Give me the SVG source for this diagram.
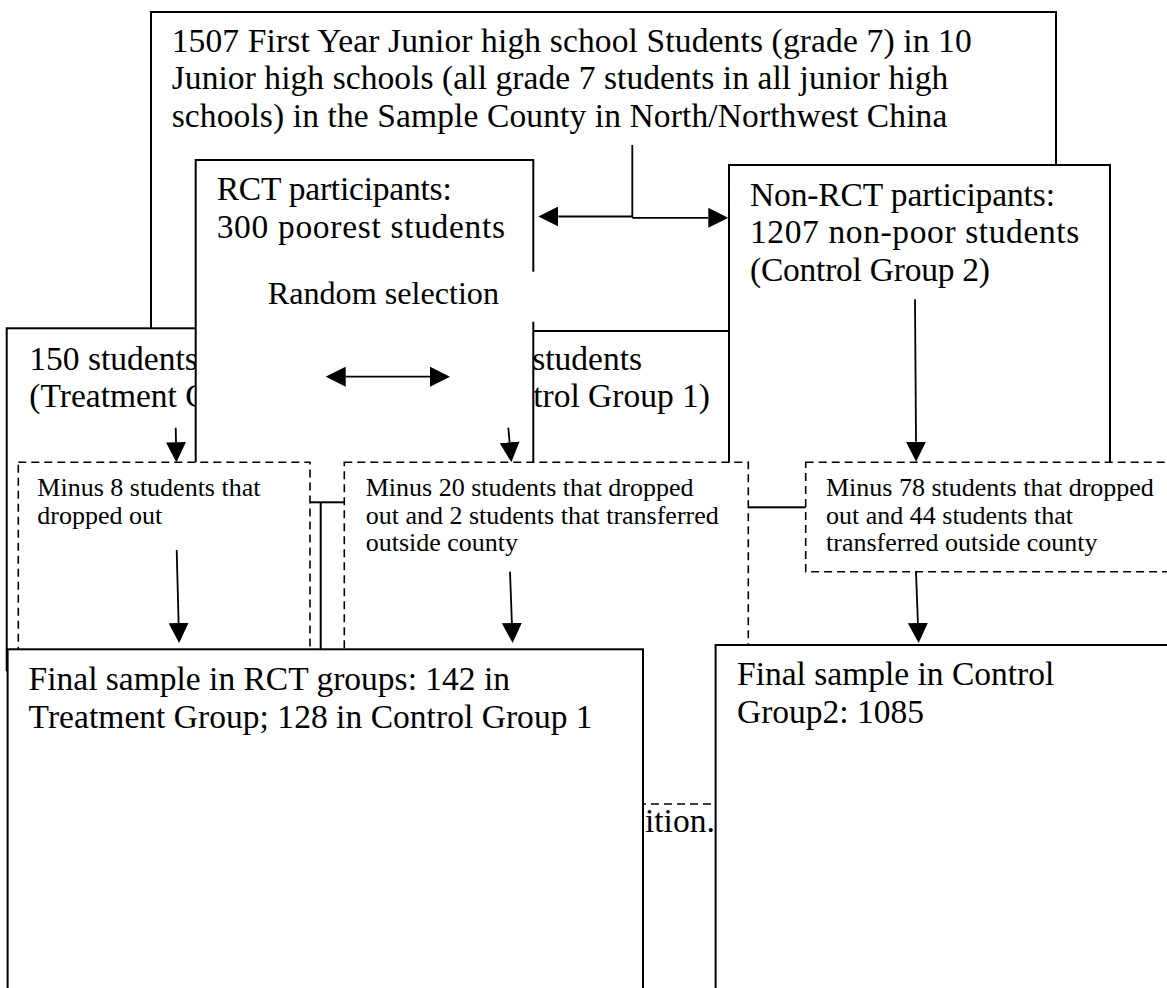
<svg xmlns="http://www.w3.org/2000/svg" width="1167" height="988" viewBox="0 0 1167 988">
<defs>
<marker id="ah" viewBox="0 0 20 20" refX="0" refY="10" markerWidth="20" markerHeight="20" markerUnits="userSpaceOnUse" orient="auto-start-reverse"><path d="M0,0 L20,10 L0,20 Z" fill="#000"/></marker>
<style>
.box{fill:#fff;stroke:#000;stroke-width:2}
.dash{fill:#fff;stroke:#000;stroke-width:1.6;stroke-dasharray:8 5}
.t{font-family:"Liberation Serif","Times New Roman",serif;font-size:33.5px;fill:#000}
.s{font-family:"Liberation Serif","Times New Roman",serif;font-size:26px;fill:#000}
.c{fill:none;stroke:#000;stroke-width:1.8}
</style>
</defs>
<rect width="1167" height="988" fill="#fff"/>
<g id="n-top">
<rect class="box" x="151" y="12" width="905" height="390"/>
<text class="t" x="171.7" y="51.7" textLength="800">1507 First Year Junior high school Students (grade 7) in 10</text>
<text class="t" x="171.7" y="89.3" textLength="776.6">Junior high schools (all grade 7 students in all junior high</text>
<text class="t" x="171.7" y="126.7" textLength="775.6">schools) in the Sample County in North/Northwest China</text>
</g>
<g id="n-treatment">
<rect class="box" x="6.7" y="328.3" width="314" height="342"/>
<text class="t" x="29.3" y="370">150 students</text>
<text class="t" x="29.3" y="407">(Treatment Group)</text>
</g>
<g id="n-control1">
<rect class="box" x="360" y="331" width="369" height="280"/>
<text class="t" x="642" y="370" text-anchor="end">150 students</text>
<text class="t" x="710" y="407" text-anchor="end">(Control Group 1)</text>
</g>
<g id="n-rct">
<rect class="box" x="195.7" y="160" width="337.6" height="342.3"/>
<text class="t" x="216.7" y="200" textLength="235">RCT participants:</text>
<text class="t" x="216.7" y="238.3" textLength="288.3">300 poorest students</text>
</g>
<g id="n-random">
<rect x="240" y="271.7" width="330" height="50" fill="#fff"/>
<text class="t" x="267.7" y="304" style="font-size:32.2px" textLength="231.3">Random selection</text>
</g>
<g id="n-nonrct">
<rect class="box" x="729" y="165" width="381" height="342.3"/>
<text class="t" x="750" y="206" textLength="305">Non-RCT participants:</text>
<text class="t" x="750" y="243.3" textLength="329.3">1207 non-poor students</text>
<text class="t" x="750" y="280.5" textLength="240">(Control Group 2)</text>
</g>
<g id="n-drop1">
<rect class="dash" x="18.3" y="462.3" width="291.7" height="240"/>
<text class="s" x="37.3" y="496">Minus 8 students that</text>
<text class="s" x="37.3" y="523.5">dropped out</text>
</g>
<g id="n-drop2">
<rect class="dash" x="344.3" y="462.3" width="404" height="560"/>
<text class="s" x="365.7" y="496">Minus 20 students that dropped</text>
<text class="s" x="365.7" y="523.5">out and 2 students that transferred</text>
<text class="s" x="365.7" y="551">outside county</text>
</g>
<g id="n-drop3">
<rect class="dash" x="805.7" y="462.3" width="420" height="109.4"/>
<text class="s" x="826" y="496">Minus 78 students that dropped</text>
<text class="s" x="826" y="523.5">out and 44 students that</text>
<text class="s" x="826" y="551">transferred outside county</text>
</g>
<g id="n-note">
<rect class="dash" x="300" y="804" width="600" height="300"/>
<text class="t" x="645" y="831.7">ition.</text>
</g>
<g id="n-final-rct">
<rect class="box" x="7.6" y="649.3" width="635.4" height="400"/>
<text class="t" x="28.6" y="690">Final sample in RCT groups: 142 in</text>
<text class="t" x="28.6" y="727.7" textLength="564">Treatment Group; 128 in Control Group 1</text>
</g>
<g id="n-final-control2">
<rect class="box" x="715.6" y="645" width="500" height="400"/>
<text class="t" x="737" y="685">Final sample in Control</text>
<text class="t" x="737" y="723.3">Group2: 1085</text>
</g>
<g id="connectors">
<path class="c" d="M632.3,145 V216.5 H558.3" marker-end="url(#ah)"/>
<path class="c" d="M632.3,217.8 H708.3" marker-end="url(#ah)"/>
<path class="c" d="M345.7,376.7 H430" marker-start="url(#ah)" marker-end="url(#ah)"/>
<path class="c" d="M175.7,427.7 L176,442.3" marker-end="url(#ah)"/>
<path class="c" d="M508.3,427.7 L509.6,442.3" marker-end="url(#ah)"/>
<path class="c" d="M915,299.3 L916,441.7" marker-end="url(#ah)"/>
<path class="c" d="M176.7,550 L178.6,623" marker-end="url(#ah)"/>
<path class="c" d="M510,571.7 L511.9,623" marker-end="url(#ah)"/>
<path class="c" d="M916,572 L917.9,623" marker-end="url(#ah)"/>
</g>
</svg>
